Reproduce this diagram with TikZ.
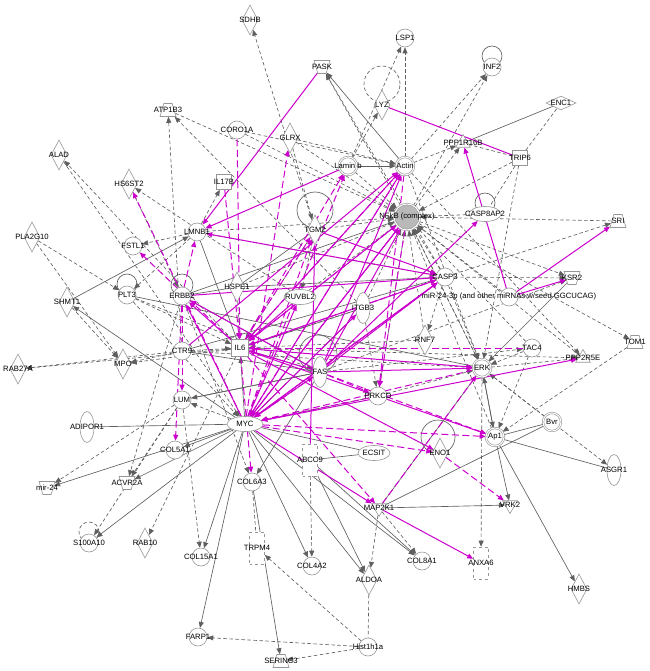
\documentclass[tikz,border=0pt]{standalone}
\usepackage{fontspec}
\setmainfont{Liberation Sans}
\usetikzlibrary{arrows.meta}
\usetikzlibrary{shapes.geometric}
\usetikzlibrary{backgrounds}
\definecolor{ipamag}{RGB}{204,0,204}
\definecolor{ipagray}{RGB}{95,95,95}
\definecolor{ipanode}{RGB}{150,150,150}
\tikzset{gene/.style = {draw=ipanode, fill=white, inner sep=1bp, line width=0.6bp},
         lbl/.style = {font=\fontsize{7.7bp}{9bp}\selectfont, inner sep=0pt, text=black},
         cir/.style = {gene, circle, minimum size=18bp},
         dcir/.style = {cir, double=white, double distance=1bp},
         dia/.style = {gene, diamond, minimum width=16bp, minimum height=30bp},
         hdia/.style = {gene, diamond, minimum width=30bp, minimum height=14bp},
         sq/.style = {gene, rectangle, minimum size=15bp},
         drect/.style = {gene, rectangle, dashed, minimum width=15bp, minimum height=32bp},
         hell/.style = {gene, ellipse, minimum width=32bp, minimum height=15bp},
         vell/.style = {gene, ellipse, minimum width=14bp, minimum height=31bp},
         trap/.style = {gene, trapezium, inner sep=2bp, trapezium stretches=true,
                        trapezium left angle=65, trapezium right angle=65,
                        minimum width=16bp, minimum height=13bp},
         itrap/.style = {trap, shape border rotate=180},
         tri/.style = {gene, regular polygon, regular polygon sides=3, minimum size=17bp},
         itri/.style = {tri, shape border rotate=180},
         ln/.style = {draw=ipagray, line width=0.65bp},
         arr/.style = {-{Triangle[length=6bp,width=5bp]}},
         sl/.style = {ln, arr},
         dl/.style = {ln, arr, dash pattern=on 3.5bp off 2.5bp},
         dn/.style = {ln, dash pattern=on 3.5bp off 2.5bp},
         pk/.style = {draw=ipamag, line width=1bp, arr},
         pkd/.style = {pk, dash pattern=on 7bp off 3.5bp}}

\begin{document}
\begin{tikzpicture}[x=1bp, y=-1bp]
  \useasboundingbox (0,0) rectangle (650,671);

  % molecules
  \node [dia, label={[lbl]center:SDHB}] (sdhb) at (250,20) {};
  \node [cir, label={[lbl]center:LSP1}] (lsp1) at (405,38) {};
  \node [itrap, label={[lbl]center:PASK}] (pask) at (322,67) {};
  \node [dia, label={[lbl]center:LYZ}] (lyz) at (382,105) {};
  \node [cir, label={[lbl]center:INF2}] (inf2) at (492,67) {};
  \node [hdia, label={[lbl]center:ENC1}] (enc1) at (561,103) {};
  \node [trap, label={[lbl]center:ATP1B3}] (atp) at (168,110) {};
  \node [cir, label={[lbl]center:CORO1A}] (coro) at (237,130) {};
  \node [dia, label={[lbl]center:GLRX}] (glrx) at (290,138) {};
  \node [dia, label={[lbl]center:ALAD}] (alad) at (59,155) {};
  \node [dcir, label={[lbl]center:Lamin b}] (lamb) at (348,166) {};
  \node [dcir, label={[lbl]center:Actin}] (actin) at (405,166) {};
  \node [tri, label={[lbl]center:PPP1R16B}] (ppp1) at (463,143) {};
  \node [sq, label={[lbl]center:TRIP6}] (trip6) at (520,158) {};
  \node [dia, label={[lbl]center:HS6ST2}] (hs6) at (129,184) {};
  \node [sq, label={[lbl]center:IL17B}] (il17b) at (224,182) {};
  \node [cir, minimum size=26bp, fill=gray!55, double=white, double distance=1bp,
         label={[lbl]center:{NFkB (complex)}}] (nfkb) at (407,217) {};
  \node [hell, label={[lbl]center:CASP8AP2}] (casp8) at (485,214) {};
  \node [dia, label={[lbl]center:TGM2}] (tgm2) at (315,230) {};
  \node [cir, label={[lbl]center:LMNB1}] (lmnb1) at (197,232) {};
  \node [trap, label={[lbl]center:SRI}] (sri) at (618,221) {};
  \node [cir, label={[lbl]center:FSTL1}] (fstl1) at (133,246) {};
  \node [dia, label={[lbl]center:PLA2G10}] (pla2) at (32,237) {};
  \node [cir, label={[lbl]center:PLT3}] (plt3) at (127,295) {};
  \node [cir, label={[lbl]center:ERBB2}] (erbb2) at (182,296) {};
  \node [dia, label={[lbl]center:HSPE1}] (hspe1) at (237,287) {};
  \node [hell, label={[lbl]center:RUVBL2}] (ruvbl2) at (300,297) {};
  \node [cir, label={[lbl]center:CASP3}] (casp3) at (445,277) {};
  \node [itrap, label={[lbl]center:KSR2}] (ksr2) at (572,278) {};
  \node [cir, label={[lbl]center:{miR-24-3p (and other miRNAs w/seed GGCUCAG)}}] (mir) at (509,297) {};
  \node [dia, label={[lbl]center:SHMT1}] (shmt1) at (67,302) {};
  \node [vell, label={[lbl]center:ITGB3}] (itgb3) at (363,308) {};
  \node [cir, label={[lbl]center:CTR9}] (ctr9) at (182,351) {};
  \node [sq, minimum size=17bp, label={[lbl]center:IL6}] (il6) at (240,348) {};
  \node [dia, label={[lbl]center:RNF7}] (rnf7) at (425,340) {};
  \node [cir, label={[lbl]center:TAC4}] (tac4) at (532,348) {};
  \node [trap, label={[lbl]center:TOM1}] (tom1) at (635,342) {};
  \node [tri, label={[lbl]center:PPP2R5E}] (ppp2) at (583,358) {};
  \node [dia, label={[lbl]center:MPO}] (mpo) at (123,364) {};
  \node [dia, label={[lbl]center:RAB27A}] (rab27) at (18,369) {};
  \node [vell, label={[lbl]center:FAS}] (fas) at (320,372) {};
  \node [dcir, label={[lbl]center:ERK}] (erk) at (482,368) {};
  \node [cir, label={[lbl]center:LUM}] (lum) at (182,400) {};
  \node [vell, label={[lbl]center:ADIPOR1}] (adipor) at (87,427) {};
  \node [cir, label={[lbl]center:PRKCD}] (prkcd) at (378,396) {};
  \node [hell, minimum width=36bp, label={[lbl]center:MYC}] (myc) at (245,424) {};
  \node [dcir, label={[lbl]center:Ap1}] (ap1) at (495,437) {};
  \node [dcir, label={[lbl]center:Bvr}] (bvr) at (552,422) {};
  \node [dia, label={[lbl]center:ENO1}] (eno1) at (440,453) {};
  \node [cir, label={[lbl]center:COL5A1}] (col5) at (175,450) {};
  \node [drect, label={[lbl]center:ABCC9}] (abcc9) at (310,460) {};
  \node [hell, label={[lbl]center:ECSIT}] (ecsit) at (374,453) {};
  \node [vell, label={[lbl]center:ASGR1}] (asgr1) at (614,470) {};
  \node [itrap, label={[lbl]center:mir-24}] (mir24) at (47,488) {};
  \node [itrap, label={[lbl]center:ACVR2A}] (acvr) at (127,483) {};
  \node [cir, label={[lbl]center:COL6A3}] (col6) at (252,482) {};
  \node [itri, label={[lbl]center:MAP2K1}] (map2k1) at (379,508) {};
  \node [itri, label={[lbl]center:VRK2}] (vrk2) at (510,505) {};
  \node [cir, label={[lbl]center:S100A10}] (s100) at (89,543) {};
  \node [dia, label={[lbl]center:RAB10}] (rab10) at (145,543) {};
  \node [drect, label={[lbl]center:TRPM4}] (trpm4) at (257,548) {};
  \node [cir, label={[lbl]center:COL4A2}] (col4) at (312,566) {};
  \node [cir, label={[lbl]center:COL8A1}] (col8) at (422,561) {};
  \node [drect, label={[lbl]center:ANXA6}] (anxa6) at (481,563) {};
  \node [cir, label={[lbl]center:COL15A1}] (col15) at (201,557) {};
  \node [dia, label={[lbl]center:ALDOA}] (aldoa) at (369,580) {};
  \node [dia, label={[lbl]center:HMBS}] (hmbs) at (579,589) {};
  \node [cir, label={[lbl]center:FARP1}] (farp1) at (198,637) {};
  \node [cir, label={[lbl]center:Hist1h1a}] (hist) at (368,647) {};
  \node [trap, label={[lbl]center:SERINC3}] (serinc) at (281,661) {};

  \begin{scope}[on background layer]
    % self loops
    \draw [dn] (382,84) circle (18bp);
    \draw [ln] (492,56) circle (10bp);
    \draw [ln] (485,203) circle (10bp);
    \draw [ln] (315,210) circle (18bp);
    \draw [ln] (127,284) circle (10bp);
    \draw [ln] (182,285) circle (11bp);
    \draw [ln] (318,354) circle (19bp);
    \draw [ln] (438,437) circle (17bp);
    \draw [dn] (89,532) circle (10bp);

    \foreach \a/\b in {trip6/enc1, trip6/casp8, nfkb/casp8, col6/trpm4, aldoa/hist, trip6/ppp1}
      \draw [dn] (\a) -- (\b);
    \foreach \a/\b in {enc1/ppp1, erbb2/hspe1, hspe1/casp3, erbb2/nfkb, adipor/myc, abcc9/ecsit,
                       ap1/asgr1, bvr/map2k1, ap1/bvr, map2k1/erk, myc/prkcd, lmnb1/il6,
                       ctr9/fas, erbb2/fas, il6/fas, lum/fas, itgb3/myc, myc/ecsit, il6/itgb3,
                       hspe1/tgm2, plt3/erk, ctr9/casp3}
      \draw [ln] (\a) -- (\b);
    \foreach \a/\b in {actin/pask, lamb/actin, myc/il6, myc/col5, myc/shmt1, shmt1/lmnb1,
                       ksr2/erk, ap1/erk, erk/ap1, ap1/hmbs, ap1/vrk2, map2k1/vrk2, myc/mir24,
                       myc/acvr, myc/s100, myc/col15, myc/farp1, col6/serinc, myc/col4,
                       myc/aldoa, abcc9/aldoa, myc/col8, abcc9/col8, fas/lum, fas/col6}
      \draw [sl] (\a) -- (\b);
    \foreach \a/\b in {lamb/lsp1, actin/lsp1, tgm2/sdhb, lamb/lyz, actin/inf2, nfkb/inf2,
                       actin/ppp1, nfkb/ppp1, nfkb/pask, casp3/pask, ctr9/atp, itgb3/atp,
                       il6/alad, ruvbl2/hs6, lmnb1/il17b, glrx/actin, glrx/nfkb, coro/actin,
                       trip6/nfkb, trip6/erk, casp3/sri, casp3/ksr2, nfkb/ksr2, nfkb/tom1,
                       tom1/ap1, erk/ppp2, actin/ppp2, tac4/erk, tac4/ap1, bvr/erk, casp3/erk,
                       nfkb/erk, actin/erk, erk/anxa6, erk/asgr1, pla2/plt3, pla2/mpo,
                       shmt1/mpo, ctr9/rab27, il6/rab27, ctr9/mpo, il6/mpo, lmnb1/plt3,
                       lmnb1/fstl1, ctr9/il6, lum/mir24, myc/lum, lum/s100, lum/acvr,
                       erbb2/acvr, lum/col15, il6/rab10, erbb2/col6, hist/trpm4, hist/serinc,
                       hist/farp1, abcc9/col4, map2k1/col8, map2k1/aldoa, itgb3/prkcd,
                       hspe1/il6, itgb3/il6, plt3/il6, plt3/fas, rnf7/nfkb, casp3/nfkb,
                       erk/nfkb, ap1/nfkb, tac4/nfkb, sri/nfkb, ppp2/nfkb, itgb3/nfkb,
                       hspe1/nfkb, tgm2/nfkb, lmnb1/nfkb, ruvbl2/nfkb, prkcd/nfkb, mir/nfkb,
                       rnf7/il6, casp3/rnf7, tgm2/il6, coro/nfkb, atp/nfkb, lmnb1/casp3,
                       fas/ksr2, il6/ppp2, fas/tac4, ctr9/erk, plt3/myc, prkcd/erk,
                       hs6/erbb2, alad/myc, tgm2/ruvbl2, glrx/tgm2, lamb/nfkb}
      \draw [dl] (\a) -- (\b);

    \draw [draw=ipamag, line width=1bp] (lyz) -- (trip6);
    \foreach \a/\b in {pask/lmnb1, lamb/lmnb1, casp3/lmnb1, mir/ppp1, mir/sri, mir/ksr2,
                       fas/casp8, il6/actin, myc/actin, fas/actin, ctr9/actin, il6/casp3,
                       myc/casp3, fas/casp3, erbb2/casp3, tgm2/casp3, fas/erbb2, myc/erbb2,
                       il6/erbb2, fas/il6, ruvbl2/il6, nfkb/il6, casp3/myc, nfkb/myc,
                       myc/ruvbl2, myc/itgb3, fas/nfkb, myc/nfkb, il6/erk, fas/erk, il6/ap1,
                       myc/ppp2, myc/map2k1, map2k1/anxa6, il6/eno1, myc/fas, abcc9/tgm2}
      \draw [pk] (\a) -- (\b);
    \foreach \a/\b in {myc/hs6, coro/il6, il17b/il6, myc/glrx, myc/lamb, il6/lamb, il6/tgm2,
                       myc/tgm2, erbb2/lum, erbb2/col5, il6/fstl1, actin/il6, tac4/il6,
                       prkcd/myc, erk/myc, fas/myc, nfkb/prkcd, actin/prkcd, fas/ap1,
                       myc/ap1, il6/col6, myc/eno1, eno1/vrk2, actin/myc, il6/nfkb,
                       map2k1/erk, il6/map2k1, fas/prkcd, casp3/il6, erbb2/lmnb1}
      \draw [pkd] (\a) -- (\b);
  \end{scope}
\end{tikzpicture}
\end{document}
